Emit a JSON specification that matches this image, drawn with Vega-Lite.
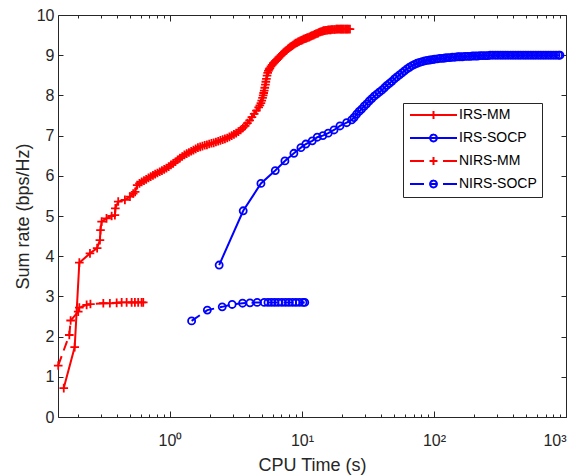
{
  "$schema": "https://vega.github.io/schema/vega-lite/v6.json",
  "autosize": "none",
  "width": 508,
  "height": 402,
  "padding": {"left": 58, "top": 15, "right": 10, "bottom": 59},
  "background": "white",
  "config": {
    "view": {"stroke": null},
    "axis": {"labelFont": "Liberation Sans", "titleFont": "Liberation Sans", "titleFontWeight": "normal", "labelColor": "#262626", "titleColor": "#262626", "domainColor": "#262626", "tickColor": "#262626", "grid": false, "domainWidth": 1, "tickWidth": 1},
    "legend": {"labelFont": "Liberation Sans"}
  },
  "data": {"values": [
    {"s":"IRS-MM","x":0.157,"y":0.72},{"s":"IRS-MM","x":0.190,"y":1.74},{"s":"IRS-MM","x":0.206,"y":3.84},{"s":"IRS-MM","x":0.248,"y":4.07},{"s":"IRS-MM","x":0.281,"y":4.20},{"s":"IRS-MM","x":0.295,"y":4.40},{"s":"IRS-MM","x":0.298,"y":4.65},{"s":"IRS-MM","x":0.304,"y":4.86},{"s":"IRS-MM","x":0.331,"y":4.94},{"s":"IRS-MM","x":0.362,"y":5.00},{"s":"IRS-MM","x":0.383,"y":5.02},{"s":"IRS-MM","x":0.386,"y":5.19},{"s":"IRS-MM","x":0.406,"y":5.36},{"s":"IRS-MM","x":0.456,"y":5.40},{"s":"IRS-MM","x":0.498,"y":5.48},{"s":"IRS-MM","x":0.527,"y":5.56},{"s":"IRS-MM","x":0.545,"y":5.60},
    {"s":"IRS-MM","x":0.565,"y":5.77},{"s":"IRS-MM","x":0.588,"y":5.81},{"s":"IRS-MM","x":0.611,"y":5.85},{"s":"IRS-MM","x":0.636,"y":5.88},{"s":"IRS-MM","x":0.661,"y":5.91},{"s":"IRS-MM","x":0.688,"y":5.95},{"s":"IRS-MM","x":0.715,"y":5.98},{"s":"IRS-MM","x":0.744,"y":6.01},{"s":"IRS-MM","x":0.773,"y":6.04},{"s":"IRS-MM","x":0.804,"y":6.07},{"s":"IRS-MM","x":0.837,"y":6.10},{"s":"IRS-MM","x":0.870,"y":6.13},{"s":"IRS-MM","x":0.905,"y":6.16},{"s":"IRS-MM","x":0.941,"y":6.19},{"s":"IRS-MM","x":0.979,"y":6.23},{"s":"IRS-MM","x":1.018,"y":6.27},{"s":"IRS-MM","x":1.059,"y":6.31},{"s":"IRS-MM","x":1.101,"y":6.35},{"s":"IRS-MM","x":1.145,"y":6.40},{"s":"IRS-MM","x":1.191,"y":6.44},{"s":"IRS-MM","x":1.239,"y":6.48},{"s":"IRS-MM","x":1.288,"y":6.52},{"s":"IRS-MM","x":1.340,"y":6.55},{"s":"IRS-MM","x":1.393,"y":6.58},{"s":"IRS-MM","x":1.449,"y":6.61},{"s":"IRS-MM","x":1.507,"y":6.64},{"s":"IRS-MM","x":1.567,"y":6.67},{"s":"IRS-MM","x":1.630,"y":6.70},{"s":"IRS-MM","x":1.695,"y":6.72},{"s":"IRS-MM","x":1.763,"y":6.74},{"s":"IRS-MM","x":1.834,"y":6.76},{"s":"IRS-MM","x":1.907,"y":6.77},{"s":"IRS-MM","x":1.983,"y":6.79},{"s":"IRS-MM","x":2.063,"y":6.81},{"s":"IRS-MM","x":2.145,"y":6.82},{"s":"IRS-MM","x":2.231,"y":6.84},{"s":"IRS-MM","x":2.320,"y":6.86},{"s":"IRS-MM","x":2.413,"y":6.88},{"s":"IRS-MM","x":2.510,"y":6.90},{"s":"IRS-MM","x":2.610,"y":6.92},{"s":"IRS-MM","x":2.715,"y":6.94},{"s":"IRS-MM","x":2.823,"y":6.97},{"s":"IRS-MM","x":2.936,"y":7.00},{"s":"IRS-MM","x":3.054,"y":7.03},{"s":"IRS-MM","x":3.176,"y":7.06},{"s":"IRS-MM","x":3.303,"y":7.10},{"s":"IRS-MM","x":3.435,"y":7.14},{"s":"IRS-MM","x":3.572,"y":7.19},{"s":"IRS-MM","x":3.715,"y":7.24},{"s":"IRS-MM","x":3.864,"y":7.31},{"s":"IRS-MM","x":4.018,"y":7.38},{"s":"IRS-MM","x":4.179,"y":7.46},{"s":"IRS-MM","x":4.346,"y":7.54},{"s":"IRS-MM","x":4.520,"y":7.62},{"s":"IRS-MM","x":4.701,"y":7.70},{"s":"IRS-MM","x":4.800,"y":7.75},{"s":"IRS-MM","x":4.889,"y":7.81},{"s":"IRS-MM","x":4.960,"y":7.87},{"s":"IRS-MM","x":5.030,"y":7.94},{"s":"IRS-MM","x":5.085,"y":8.00},{"s":"IRS-MM","x":5.130,"y":8.06},{"s":"IRS-MM","x":5.180,"y":8.12},{"s":"IRS-MM","x":5.230,"y":8.19},{"s":"IRS-MM","x":5.288,"y":8.27},{"s":"IRS-MM","x":5.330,"y":8.34},{"s":"IRS-MM","x":5.380,"y":8.41},{"s":"IRS-MM","x":5.440,"y":8.49},{"s":"IRS-MM","x":5.500,"y":8.56},{"s":"IRS-MM","x":5.570,"y":8.61},{"s":"IRS-MM","x":5.650,"y":8.65},{"s":"IRS-MM","x":5.72,"y":8.68},{"s":"IRS-MM","x":5.83,"y":8.72},{"s":"IRS-MM","x":5.95,"y":8.76},{"s":"IRS-MM","x":6.07,"y":8.80},{"s":"IRS-MM","x":6.19,"y":8.83},{"s":"IRS-MM","x":6.31,"y":8.86},{"s":"IRS-MM","x":6.43,"y":8.88},{"s":"IRS-MM","x":6.56,"y":8.91},{"s":"IRS-MM","x":6.69,"y":8.94},{"s":"IRS-MM","x":6.82,"y":8.97},{"s":"IRS-MM","x":6.96,"y":9.00},{"s":"IRS-MM","x":7.10,"y":9.03},{"s":"IRS-MM","x":7.24,"y":9.06},{"s":"IRS-MM","x":7.38,"y":9.08},{"s":"IRS-MM","x":7.53,"y":9.11},{"s":"IRS-MM","x":7.68,"y":9.13},{"s":"IRS-MM","x":7.83,"y":9.16},{"s":"IRS-MM","x":7.98,"y":9.18},{"s":"IRS-MM","x":8.14,"y":9.20},{"s":"IRS-MM","x":8.30,"y":9.22},{"s":"IRS-MM","x":8.47,"y":9.24},{"s":"IRS-MM","x":8.63,"y":9.26},{"s":"IRS-MM","x":8.80,"y":9.28},{"s":"IRS-MM","x":8.98,"y":9.30},{"s":"IRS-MM","x":9.16,"y":9.31},{"s":"IRS-MM","x":9.34,"y":9.33},{"s":"IRS-MM","x":9.52,"y":9.34},{"s":"IRS-MM","x":9.71,"y":9.36},{"s":"IRS-MM","x":9.90,"y":9.37},{"s":"IRS-MM","x":10.1,"y":9.38},{"s":"IRS-MM","x":10.3,"y":9.40},{"s":"IRS-MM","x":10.5,"y":9.41},{"s":"IRS-MM","x":10.7,"y":9.42},{"s":"IRS-MM","x":10.9,"y":9.43},{"s":"IRS-MM","x":11.1,"y":9.44},{"s":"IRS-MM","x":11.35,"y":9.45},{"s":"IRS-MM","x":11.6,"y":9.47},{"s":"IRS-MM","x":11.8,"y":9.48},{"s":"IRS-MM","x":12.0,"y":9.49},{"s":"IRS-MM","x":12.25,"y":9.50},{"s":"IRS-MM","x":12.5,"y":9.52},{"s":"IRS-MM","x":12.75,"y":9.53},{"s":"IRS-MM","x":13.0,"y":9.54},{"s":"IRS-MM","x":13.25,"y":9.55},{"s":"IRS-MM","x":13.5,"y":9.57},{"s":"IRS-MM","x":13.8,"y":9.58},{"s":"IRS-MM","x":14.1,"y":9.59},{"s":"IRS-MM","x":14.4,"y":9.60},{"s":"IRS-MM","x":14.6,"y":9.61},{"s":"IRS-MM","x":14.9,"y":9.61},{"s":"IRS-MM","x":15.2,"y":9.62},{"s":"IRS-MM","x":15.5,"y":9.62},{"s":"IRS-MM","x":15.8,"y":9.63},{"s":"IRS-MM","x":16.2,"y":9.63},{"s":"IRS-MM","x":16.5,"y":9.63},{"s":"IRS-MM","x":16.8,"y":9.64},{"s":"IRS-MM","x":17.1,"y":9.64},{"s":"IRS-MM","x":17.5,"y":9.64},{"s":"IRS-MM","x":17.8,"y":9.64},{"s":"IRS-MM","x":18.2,"y":9.65},{"s":"IRS-MM","x":18.5,"y":9.65},{"s":"IRS-MM","x":18.9,"y":9.65},{"s":"IRS-MM","x":19.3,"y":9.65},{"s":"IRS-MM","x":19.7,"y":9.65},{"s":"IRS-MM","x":20.0,"y":9.65},{"s":"IRS-MM","x":20.4,"y":9.65},{"s":"IRS-MM","x":20.8,"y":9.65},{"s":"IRS-MM","x":21.3,"y":9.65},{"s":"IRS-MM","x":21.7,"y":9.65},{"s":"IRS-MM","x":22.1,"y":9.65},{"s":"IRS-MM","x":22.5,"y":9.65},{"s":"IRS-MM","x":23.1,"y":9.65},
    {"s":"IRS-SOCP","x":2.36,"y":3.78},{"s":"IRS-SOCP","x":3.59,"y":5.13},{"s":"IRS-SOCP","x":4.89,"y":5.81},{"s":"IRS-SOCP","x":6.28,"y":6.13},{"s":"IRS-SOCP","x":7.43,"y":6.37},{"s":"IRS-SOCP","x":8.69,"y":6.56},{"s":"IRS-SOCP","x":9.82,"y":6.70},{"s":"IRS-SOCP","x":10.7,"y":6.79},{"s":"IRS-SOCP","x":11.97,"y":6.87},{"s":"IRS-SOCP","x":13.06,"y":6.96},{"s":"IRS-SOCP","x":14.4,"y":7.00},{"s":"IRS-SOCP","x":15.8,"y":7.06},{"s":"IRS-SOCP","x":17.5,"y":7.14},{"s":"IRS-SOCP","x":19.4,"y":7.24},{"s":"IRS-SOCP","x":21.8,"y":7.32},{"s":"IRS-SOCP","x":23.8,"y":7.39},
    {"s":"IRS-SOCP","x":24.8,"y":7.45},{"s":"IRS-SOCP","x":25.9,"y":7.53},{"s":"IRS-SOCP","x":27.1,"y":7.60},{"s":"IRS-SOCP","x":28.3,"y":7.66},{"s":"IRS-SOCP","x":29.6,"y":7.73},{"s":"IRS-SOCP","x":30.9,"y":7.79},{"s":"IRS-SOCP","x":32.3,"y":7.86},{"s":"IRS-SOCP","x":33.8,"y":7.92},{"s":"IRS-SOCP","x":35.3,"y":7.98},{"s":"IRS-SOCP","x":36.9,"y":8.03},{"s":"IRS-SOCP","x":38.5,"y":8.08},{"s":"IRS-SOCP","x":40.3,"y":8.13},{"s":"IRS-SOCP","x":42.1,"y":8.19},{"s":"IRS-SOCP","x":44.0,"y":8.25},{"s":"IRS-SOCP","x":46.0,"y":8.30},{"s":"IRS-SOCP","x":48.0,"y":8.35},{"s":"IRS-SOCP","x":50.2,"y":8.41},{"s":"IRS-SOCP","x":52.4,"y":8.46},{"s":"IRS-SOCP","x":54.8,"y":8.51},{"s":"IRS-SOCP","x":57.3,"y":8.56},{"s":"IRS-SOCP","x":59.8,"y":8.61},{"s":"IRS-SOCP","x":62.5,"y":8.66},{"s":"IRS-SOCP","x":65.3,"y":8.70},{"s":"IRS-SOCP","x":68.3,"y":8.74},{"s":"IRS-SOCP","x":71.3,"y":8.77},{"s":"IRS-SOCP","x":74.5,"y":8.80},{"s":"IRS-SOCP","x":77.9,"y":8.82},{"s":"IRS-SOCP","x":81.4,"y":8.84},{"s":"IRS-SOCP","x":85.1,"y":8.86},{"s":"IRS-SOCP","x":88.9,"y":8.87},{"s":"IRS-SOCP","x":92.9,"y":8.88},{"s":"IRS-SOCP","x":97.1,"y":8.89},{"s":"IRS-SOCP","x":101,"y":8.90},{"s":"IRS-SOCP","x":106,"y":8.91},{"s":"IRS-SOCP","x":111,"y":8.92},{"s":"IRS-SOCP","x":116,"y":8.92},{"s":"IRS-SOCP","x":121,"y":8.93},{"s":"IRS-SOCP","x":126,"y":8.94},{"s":"IRS-SOCP","x":132,"y":8.94},{"s":"IRS-SOCP","x":138,"y":8.95},{"s":"IRS-SOCP","x":144,"y":8.95},{"s":"IRS-SOCP","x":151,"y":8.96},{"s":"IRS-SOCP","x":157,"y":8.96},{"s":"IRS-SOCP","x":164,"y":8.96},{"s":"IRS-SOCP","x":172,"y":8.97},{"s":"IRS-SOCP","x":180,"y":8.97},{"s":"IRS-SOCP","x":188,"y":8.97},{"s":"IRS-SOCP","x":196,"y":8.98},{"s":"IRS-SOCP","x":205,"y":8.98},{"s":"IRS-SOCP","x":214,"y":8.98},{"s":"IRS-SOCP","x":224,"y":8.99},{"s":"IRS-SOCP","x":234,"y":8.99},{"s":"IRS-SOCP","x":245,"y":8.99},{"s":"IRS-SOCP","x":256,"y":8.99},{"s":"IRS-SOCP","x":267,"y":9.00},{"s":"IRS-SOCP","x":279,"y":9.00},{"s":"IRS-SOCP","x":292,"y":9.00},{"s":"IRS-SOCP","x":305,"y":9.00},{"s":"IRS-SOCP","x":319,"y":9.00},{"s":"IRS-SOCP","x":333,"y":9.00},{"s":"IRS-SOCP","x":348,"y":9.00},{"s":"IRS-SOCP","x":364,"y":9.00},{"s":"IRS-SOCP","x":380,"y":9.00},{"s":"IRS-SOCP","x":397,"y":9.00},{"s":"IRS-SOCP","x":415,"y":9.00},{"s":"IRS-SOCP","x":434,"y":9.00},{"s":"IRS-SOCP","x":453,"y":9.00},{"s":"IRS-SOCP","x":474,"y":9.00},{"s":"IRS-SOCP","x":495,"y":9.00},{"s":"IRS-SOCP","x":517,"y":9.00},{"s":"IRS-SOCP","x":541,"y":9.00},{"s":"IRS-SOCP","x":565,"y":9.00},{"s":"IRS-SOCP","x":590,"y":9.00},{"s":"IRS-SOCP","x":617,"y":9.00},{"s":"IRS-SOCP","x":645,"y":9.00},{"s":"IRS-SOCP","x":674,"y":9.00},{"s":"IRS-SOCP","x":704,"y":9.00},{"s":"IRS-SOCP","x":736,"y":9.00},{"s":"IRS-SOCP","x":769,"y":9.00},{"s":"IRS-SOCP","x":804,"y":9.00},{"s":"IRS-SOCP","x":840,"y":9.00},{"s":"IRS-SOCP","x":878,"y":9.00},{"s":"IRS-SOCP","x":900,"y":9.00},
    {"s":"NIRS-MM","x":0.1425,"y":1.28},{"s":"NIRS-MM","x":0.173,"y":2.04},{"s":"NIRS-MM","x":0.177,"y":2.40},{"s":"NIRS-MM","x":0.202,"y":2.62},{"s":"NIRS-MM","x":0.206,"y":2.72},{"s":"NIRS-MM","x":0.234,"y":2.79},{"s":"NIRS-MM","x":0.25,"y":2.81},{"s":"NIRS-MM","x":0.313,"y":2.83},{"s":"NIRS-MM","x":0.351,"y":2.83},{"s":"NIRS-MM","x":0.395,"y":2.84},{"s":"NIRS-MM","x":0.431,"y":2.85},{"s":"NIRS-MM","x":0.47,"y":2.85},{"s":"NIRS-MM","x":0.513,"y":2.85},{"s":"NIRS-MM","x":0.543,"y":2.85},{"s":"NIRS-MM","x":0.575,"y":2.85},{"s":"NIRS-MM","x":0.61,"y":2.85},{"s":"NIRS-MM","x":0.628,"y":2.85},
    {"s":"NIRS-SOCP","x":1.46,"y":2.39},{"s":"NIRS-SOCP","x":1.92,"y":2.66},{"s":"NIRS-SOCP","x":2.49,"y":2.74},{"s":"NIRS-SOCP","x":2.96,"y":2.80},{"s":"NIRS-SOCP","x":3.55,"y":2.83},{"s":"NIRS-SOCP","x":4.04,"y":2.84},{"s":"NIRS-SOCP","x":4.58,"y":2.85},{"s":"NIRS-SOCP","x":5.18,"y":2.85},{"s":"NIRS-SOCP","x":5.53,"y":2.85},{"s":"NIRS-SOCP","x":5.87,"y":2.85},{"s":"NIRS-SOCP","x":6.23,"y":2.85},{"s":"NIRS-SOCP","x":6.62,"y":2.85},{"s":"NIRS-SOCP","x":7.05,"y":2.85},{"s":"NIRS-SOCP","x":7.50,"y":2.85},{"s":"NIRS-SOCP","x":7.97,"y":2.85},{"s":"NIRS-SOCP","x":8.48,"y":2.85},{"s":"NIRS-SOCP","x":9.0,"y":2.85},{"s":"NIRS-SOCP","x":9.57,"y":2.85},{"s":"NIRS-SOCP","x":10.18,"y":2.85},{"s":"NIRS-SOCP","x":10.5,"y":2.85}
  ]},
  "resolve": {"axis": {"x": "independent", "y": "independent"}},
  "layer": [
    {
      "transform": [{"filter": "datum.s === 'IRS-MM' || datum.s === 'IRS-SOCP'"}],
      "mark": {"type": "line", "strokeWidth": 2},
      "encoding": {
        "x": {"field": "x", "type": "quantitative", "scale": {"type": "log", "domain": [0.142, 1000], "nice": false},
              "axis": {"orient": "bottom", "values": [1, 10, 100, 1000], "tickSize": -6, "labelExpr": "'10' + ['⁰','¹','²','³'][round(log(datum.value)/LN10)]", "labelFontSize": 16, "labelPadding": 21, "title": "CPU Time (s)", "titleFontSize": 18, "titlePadding": 8}},
        "y": {"field": "y", "type": "quantitative", "scale": {"domain": [0, 10], "nice": false},
              "axis": {"orient": "left", "values": [0,1,2,3,4,5,6,7,8,9,10], "tickSize": -5, "labelFontSize": 16, "labelPadding": 9, "title": "Sum rate (bps/Hz)", "titleFontSize": 18, "titlePadding": 4}},
        "color": {"field": "s", "type": "nominal", "scale": {"domain": ["IRS-MM", "IRS-SOCP", "NIRS-MM", "NIRS-SOCP"], "range": ["#ff0000", "#0000ff", "#ff0000", "#0000ff"]},
                  "legend": {"orient": "none", "legendX": 345, "legendY": 88, "title": null, "padding": 5, "strokeColor": "#262626", "fillColor": "white", "labelFontSize": 14, "labelColor": "#000000", "symbolSize": 64, "symbolStrokeWidth": 2, "symbolOffset": 0, "labelOffset": 37, "rowPadding": 7,
                             "encode": {"symbols": {"update": {"shape": {"signal": "datum.value === 'IRS-MM' ? 'M-1.25,0H10.5M4.625,-1V1' : datum.value === 'IRS-SOCP' ? 'M-1.25,0H10.5M5.475,0A0.85,0.85 0 1,1 3.775,0A0.85,0.85 0 1,1 5.475,0' : datum.value === 'NIRS-MM' ? 'M-1.25,0H2.25M7.0,0H10.5M4.625,-1V1M3.625,0H5.625' : 'M-1.25,0H2.25M7.0,0H10.5M3.775,0H5.475M5.475,0A0.85,0.85 0 1,1 3.775,0A0.85,0.85 0 1,1 5.475,0'"}, "fill": {"value": "transparent"}, "strokeDash": {"value": [1, 0]}, "strokeWidth": {"value": 2}}}}}}
      }
    },
    {
      "transform": [{"filter": "datum.s === 'NIRS-MM' || datum.s === 'NIRS-SOCP'"}],
      "mark": {"type": "line", "strokeWidth": 2, "strokeDash": [10, 6]},
      "encoding": {
        "x": {"field": "x", "type": "quantitative",
              "axis": {"orient": "bottom", "values": [0.2,0.3,0.4,0.5,0.6,0.7,0.8,0.9,2,3,4,5,6,7,8,9,20,30,40,50,60,70,80,90,200,300,400,500,600,700,800,900], "tickSize": -3, "labels": false, "domain": false, "title": null}},
        "y": {"field": "y", "type": "quantitative",
              "axis": {"orient": "right", "values": [0,1,2,3,4,5,6,7,8,9,10], "tickSize": -5, "labels": false, "title": null}},
        "color": {"field": "s", "type": "nominal"}
      }
    },
    {
      "transform": [{"filter": "datum.s === 'IRS-MM' || datum.s === 'NIRS-MM'"}],
      "mark": {"type": "point", "filled": false, "strokeWidth": 1.8, "size": 75, "opacity": 1, "shape": "M-1,0H1M0,-1V1"},
      "encoding": {
        "x": {"field": "x", "type": "quantitative",
              "axis": {"orient": "top", "values": [1, 10, 100, 1000], "tickSize": -6, "labels": false, "title": null}},
        "y": {"field": "y", "type": "quantitative", "axis": null},
        "color": {"field": "s", "type": "nominal"}
      }
    },
    {
      "transform": [{"filter": "datum.s === 'IRS-SOCP' || datum.s === 'NIRS-SOCP'"}],
      "mark": {"type": "point", "filled": false, "strokeWidth": 1.8, "size": 50, "opacity": 1, "shape": "circle"},
      "encoding": {
        "x": {"field": "x", "type": "quantitative",
              "axis": {"orient": "top", "values": [0.2,0.3,0.4,0.5,0.6,0.7,0.8,0.9,2,3,4,5,6,7,8,9,20,30,40,50,60,70,80,90,200,300,400,500,600,700,800,900], "tickSize": -3, "labels": false, "domain": false, "title": null}},
        "y": {"field": "y", "type": "quantitative", "axis": null},
        "color": {"field": "s", "type": "nominal"}
      }
    }
  ]
}
